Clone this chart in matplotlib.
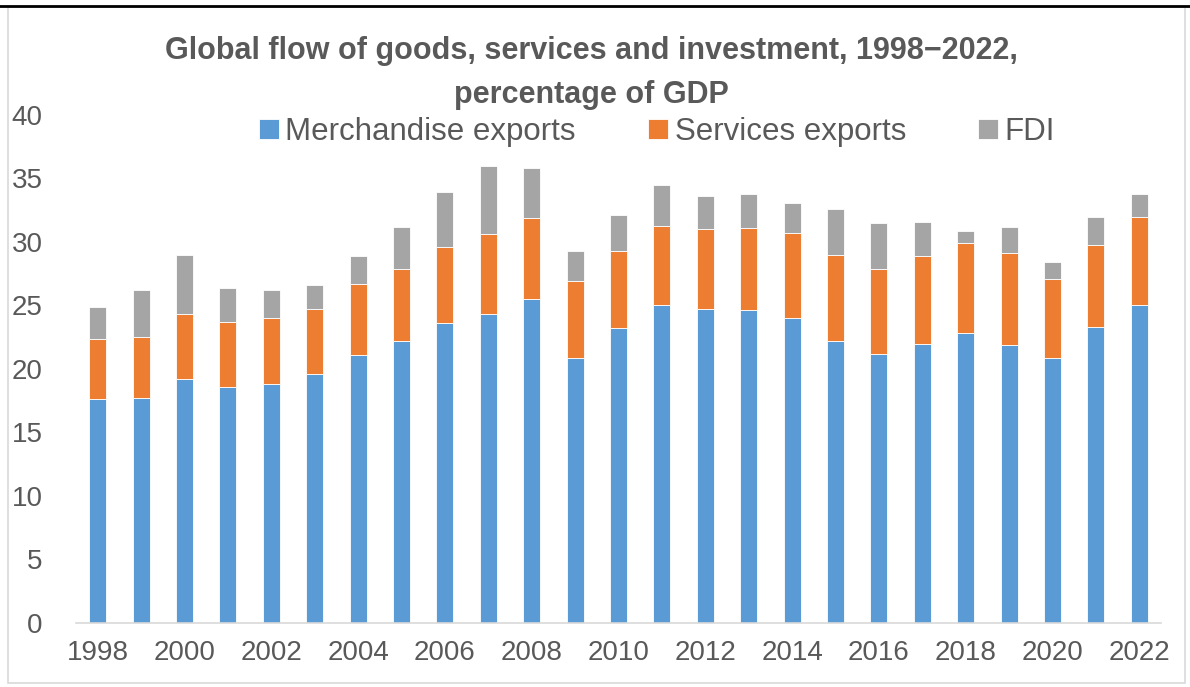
import matplotlib
matplotlib.use('Agg')
import matplotlib.pyplot as plt
import numpy as np

# values, % of GDP (cumulative tops converted to components)
years = list(range(1998, 2023))
merchandise = [17.6, 17.7, 19.2, 18.6, 18.8, 19.6, 21.1, 22.2, 23.6, 24.3, 25.5, 20.9, 23.2,
               25.05, 24.75, 24.65, 24.05, 22.2, 21.2, 22.0, 22.85, 21.9, 20.9, 23.3, 25.0]
services = [4.8, 4.8, 5.1, 5.1, 5.25, 5.1, 5.6, 5.7, 6.0, 6.3, 6.4, 6.0, 6.1,
            6.2, 6.25, 6.45, 6.65, 6.8, 6.7, 6.9, 7.05, 7.2, 6.2, 6.45, 7.0]
fdi = [2.5, 3.7, 4.7, 2.7, 2.15, 1.9, 2.2, 3.3, 4.3, 5.4, 3.9, 2.4, 2.8,
       3.25, 2.65, 2.7, 2.4, 3.6, 3.6, 2.7, 1.0, 2.1, 1.3, 2.25, 1.75]
tick_years = years[::2]

blue = '#5B9BD5'
orange = '#ED7D31'
gray = '#A5A5A5'
text_col = '#595959'

plt.rcParams['font.family'] = ['Liberation Sans', 'DejaVu Sans']

fig = plt.figure(figsize=(11.9, 6.87), dpi=100)
ax = fig.add_axes([0.0639, 0.0932, 0.9117, 0.7394])

x = np.arange(len(years))
merch = np.array(merchandise)
serv = np.array(services)
width = 0.39
ax.bar(x, merch, width, color=blue, edgecolor='white', linewidth=0.6, label='Merchandise exports')
ax.bar(x, serv, width, bottom=merch, color=orange, edgecolor='white', linewidth=0.6,
       label='Services exports')
ax.bar(x, fdi, width, bottom=merch + serv, color=gray, edgecolor='white', linewidth=0.6, label='FDI')

ax.set_xlim(-0.5, len(years) - 0.5)
ax.set_ylim(0, 40)
ax.set_yticks(range(0, 41, 5))
ax.set_xticks([years.index(y) for y in tick_years])
ax.set_xticklabels([str(y) for y in tick_years])
ax.tick_params(axis='both', length=0, labelsize=20, colors=text_col)
ax.tick_params(axis='y', pad=24)
ax.tick_params(axis='x', pad=12)
for side in ['left', 'right', 'top']:
    ax.spines[side].set_visible(False)
ax.spines['bottom'].set_color('#D9D9D9')
ax.spines['bottom'].set_linewidth(1.2)

fig.text(0.497, 0.894, 'Global flow of goods, services and investment, 1998\u22122022,\npercentage of GDP',
         ha='center', va='center', fontsize=22, fontweight='bold', color=text_col,
         multialignment='center', linespacing=1.6)

fig.legend(loc='center', bbox_to_anchor=(0.552, 0.808), ncol=3, frameon=False,
           fontsize=22.5, labelcolor=text_col, handlelength=0.64, handleheight=0.64,
           handletextpad=0.22, columnspacing=2.3, borderpad=0, borderaxespad=0)

# chart frame and top rule
fig.add_artist(plt.Rectangle((8 / 1190, 4 / 687), 1177 / 1190, 676 / 687, transform=fig.transFigure,
                             fill=False, edgecolor='#D9D9D9', linewidth=1.2))
fig.add_artist(plt.Line2D([0, 1], [1 - 5.5 / 687, 1 - 5.5 / 687], transform=fig.transFigure,
                          color='black', linewidth=2))

fig.savefig('out.png', dpi=100)
